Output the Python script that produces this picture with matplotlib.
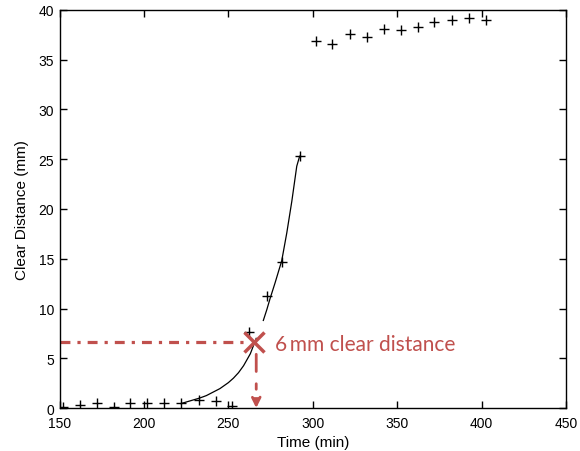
import matplotlib
matplotlib.use("Agg")
import matplotlib.pyplot as plt

# measured points (+ markers)
timeMin = [152, 162, 172, 182, 192, 202, 212, 222, 232.5, 242.5, 252, 262, 273, 282, 292.5,
           302, 311.5, 322, 332, 342, 352.5, 362.5, 372, 382.5, 392.5, 402.5]
clearDist = [0.1, 0.3, 0.5, 0.1, 0.5, 0.5, 0.5, 0.5, 0.85, 0.7, 0.2, 7.6, 11.3, 14.7, 25.3,
             36.9, 36.6, 37.6, 37.3, 38.1, 38.0, 38.3, 38.8, 39.0, 39.2, 39.0]

# fitted curve (two pieces, broken at the marker)
fitT1 = [222, 228, 233, 237, 241, 245, 250, 253, 256, 259, 263, 266.5]
fitD1 = [0.45, 0.75, 1.0, 1.25, 1.6, 1.95, 2.55, 3.0, 3.55, 4.25, 5.45, 7.0]
fitT2 = [270.7, 272.8, 274.7, 277.7, 281.6, 284.6, 287.6, 290.5, 292.2]
fitD2 = [8.8, 9.9, 11.0, 12.6, 14.8, 17.6, 20.8, 24.3, 25.3]

# 6 mm clear distance point
markT = 265
markD = 6.6
red = '#C0504D'
dashDot = (3.1, 2.2, 1.0, 2.2)  # in linewidths

plt.close('all')
fig = plt.figure(figsize=(5.8, 4.52), dpi=100, facecolor="w")
ax = fig.add_axes([0.1026, 0.0951, 0.8734, 0.8806])

ax.plot(fitT1, fitD1, 'k-', lw=0.9)
ax.plot(fitT2, fitD2, 'k-', lw=0.9)
ax.plot(timeMin, clearDist, 'k+', ms=7.5, mew=1.0)

# dash-dot guide lines
ax.plot([150, markT - 4], [markD, markD], color=red, lw=2.3, dashes=dashDot)
ax.annotate('', xy=(markT + 1.5, 0.0), xytext=(markT + 1.5, markD - 1.2),
            arrowprops=dict(arrowstyle='-|>', color=red, lw=2.0,
                            linestyle=(0, tuple(d * 2.0 for d in dashDot)),
                            mutation_scale=14, shrinkA=0, shrinkB=0))
ax.plot(markT, markD, 'x', color=red, ms=15, mew=2.5)
ax.text(277.5, 6.4, '6\u2009mm clear distance', color=red, fontsize=15,
        family=['Lato', 'DejaVu Sans'], va='center', ha='left')

ax.set_xlim(150, 450)
ax.set_ylim(0, 40)
ax.set_xticks(range(150, 451, 50))
ax.set_yticks(range(0, 41, 5))
ax.tick_params(direction='in', top=True, right=True, length=5, width=1, labelsize=10)
ax.tick_params(axis='x', pad=5.5)
ax.tick_params(axis='y', pad=4)
for lbl in ax.get_xticklabels() + ax.get_yticklabels():
  lbl.set_family('Liberation Sans')
for sp in ax.spines.values():
  sp.set_linewidth(1.0)

ax.set_xlabel('Time (min)', family='Liberation Sans', fontsize=11, labelpad=4)
ax.set_ylabel('Clear Distance (mm)', family='Liberation Sans', fontsize=11, labelpad=7)

plt.savefig('out.png', dpi=100)
